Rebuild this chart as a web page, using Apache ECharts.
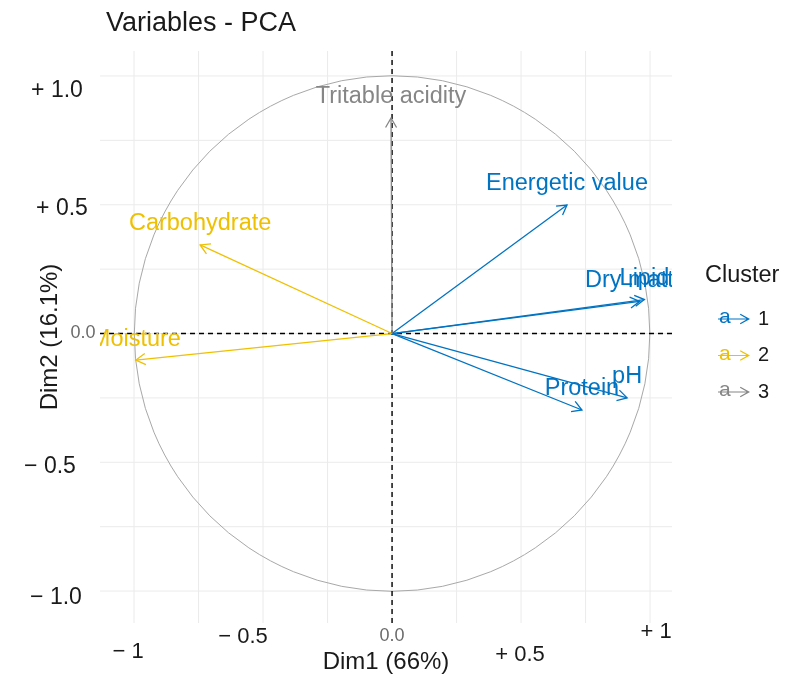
<!DOCTYPE html>
<html><head><meta charset="utf-8">
<script src="https://cdn.jsdelivr.net/npm/echarts@6/dist/echarts.min.js"></script>
<style>html,body{margin:0;padding:0;background:#fff}#c{width:785px;height:680px}</style>
</head><body><div id="c"></div>
<script>
// ---- data ----
const variables = ['Energetic value', 'Dry matter', 'Lipid', 'pH', 'Protein', 'Carbohydrate', 'Moisture', 'Tritable acidity'];
const dim1 = [0.678, 0.960, 0.978, 0.911, 0.736, -0.744, -0.993, -0.004];
const dim2 = [0.499, 0.125, 0.132, -0.250, -0.297, 0.344, -0.103, 0.837];
const cluster = ['1', '1', '1', '1', '1', '2', '2', '3'];
const clusterNames = ['1', '2', '3'];
const gridBreaks = [-1, -0.75, -0.5, -0.25, 0, 0.25, 0.5, 0.75, 1];
const xTicks = [-1, -0.5, 0, 0.5, 1];
const xTickLabels = ['\u2212 1', '\u2212 0.5', '0.0', '+ 0.5', '+ 1'];
const yTicks = [1, 0.5, 0, -0.5, -1];
const yTickLabels = ['+ 1.0', '+ 0.5', '0.0', '\u2212 0.5', '\u2212 1.0'];

// ---- styles ----
const clusterColors = ['#0073C2', '#EFC000', '#868686'];
const FONT = '"Liberation Sans", Arial, sans-serif';
// label shifts (px): x labels relative to (tick x, grid bottom); y labels relative to (grid left, tick y)
const xLabelShift = [[-6, 29], [-20, 14], [0, 13], [-1, 32], [6, 9]];
const yLabelShift = [[-43, 15], [-38, 4], [-17, 0], [-50, 4], [-44, 7]];

const chart = echarts.init(document.getElementById('c'), null, {renderer: 'canvas'});

function arrowItem(params, api) {
  const x = api.value(0), y = api.value(1), idx = api.value(2);
  const o = api.coord([0, 0]);
  const p = api.coord([x, y]);
  const ang = Math.atan2(p[1] - o[1], p[0] - o[0]);
  const L = 11, a = Math.PI / 6;
  const h1 = [p[0] - L * Math.cos(ang - a), p[1] - L * Math.sin(ang - a)];
  const h2 = [p[0] - L * Math.cos(ang + a), p[1] - L * Math.sin(ang + a)];
  const color = api.visual('color');
  return {
    type: 'group',
    children: [
      {type: 'line', shape: {x1: o[0], y1: o[1], x2: p[0], y2: p[1]}, style: {stroke: color, lineWidth: 1.3}},
      {type: 'polyline', shape: {points: [h1, p, h2]}, style: {stroke: color, lineWidth: 1.3, fill: null}},
      {type: 'text', x: p[0], y: p[1] - 21, style: {text: variables[idx], fill: color, fontSize: 23.5, fontFamily: FONT, align: 'center', verticalAlign: 'middle'}}
    ]
  };
}

const arrowSeries = clusterNames.map((cn, ci) => ({
  name: cn,
  type: 'custom',
  clip: true,
  z: 5,
  itemStyle: {color: clusterColors[ci]},
  renderItem: arrowItem,
  data: variables.map((v, i) => [dim1[i], dim2[i], i]).filter((d) => cluster[d[2]] === cn)
}));

const option = {
  animation: false,
  backgroundColor: '#ffffff',
  title: {
    text: 'Variables - PCA', left: 101, top: 5,
    textStyle: {fontSize: 27, fontWeight: 'normal', color: '#1a1a1a', fontFamily: FONT}
  },
  grid: {left: 100, right: 113, top: 51, bottom: 57},
  xAxis: {
    type: 'value', min: -1.132, max: 1.085,
    axisLine: {show: false, onZero: false}, axisTick: {show: false}, axisLabel: {show: false}, splitLine: {show: false},
    name: 'Dim1 (66%)', nameLocation: 'middle', nameGap: 27,
    nameTextStyle: {fontSize: 24, color: '#1a1a1a', fontFamily: FONT}
  },
  yAxis: {
    type: 'value', min: -1.124, max: 1.097,
    axisLine: {show: false, onZero: false}, axisTick: {show: false}, axisLabel: {show: false}, splitLine: {show: false},
    name: 'Dim2 (16.1%)', nameLocation: 'middle', nameGap: 38,
    nameTextStyle: {fontSize: 24, color: '#1a1a1a', fontFamily: FONT}
  },
  legend: {
    data: clusterNames,
    orient: 'vertical', left: 713, top: 304,
    itemWidth: 32, itemHeight: 12, itemGap: 16.5,
    icon: 'path://M0,4.5L25,4.5L25,5.5L0,5.5Z M19,0.6L27,5L19,9.4L18.5,8.5L24.8,5L18.5,1.5Z',
    textStyle: {fontSize: 20, lineHeight: 20, color: '#1a1a1a', fontFamily: FONT, padding: [0, 0, 0, 3]},
    selectedMode: false
  },
  graphic: [
    {type: 'text', left: 705, top: 264, style: {text: 'Cluster', fontSize: 23.5, fill: '#1a1a1a', fontFamily: FONT}},
    ...clusterNames.map((cn, ci) => ({
      type: 'text', left: 719, top: 307 + ci * 36.5, z: -1,
      style: {text: 'a', fontSize: 21, fill: clusterColors[ci], fontFamily: FONT}
    }))
  ],
  series: [
    {
      type: 'custom', z: 1, silent: true,
      renderItem: function (params, api) {
        const v = api.value(0);
        const cs = params.coordSys;
        const px = api.coord([v, 0])[0];
        const py = api.coord([0, v])[1];
        return {type: 'group', children: [
          {type: 'line', shape: {x1: px, y1: cs.y, x2: px, y2: cs.y + cs.height}, style: {stroke: '#EBEBEB', lineWidth: 1}},
          {type: 'line', shape: {x1: cs.x, y1: py, x2: cs.x + cs.width, y2: py}, style: {stroke: '#EBEBEB', lineWidth: 1}}
        ]};
      },
      data: gridBreaks.map((v) => [v])
    },
    {
      type: 'custom', z: 2, silent: true,
      renderItem: function (params, api) {
        const c = api.coord([api.value(0), api.value(1)]);
        const s = api.size([1, 1]);
        return {type: 'circle', shape: {cx: c[0], cy: c[1], r: (s[0] + s[1]) / 2}, style: {fill: null, stroke: '#A8A8A8', lineWidth: 1}};
      },
      data: [[0, 0]]
    },
    {
      type: 'custom', z: 3, silent: true,
      renderItem: function (params, api) {
        const cs = params.coordSys;
        const c = api.coord([api.value(0), api.value(0)]);
        const st = {stroke: '#000', lineWidth: 1.4, lineDash: [5, 4]};
        return {type: 'group', children: [
          {type: 'line', shape: {x1: cs.x, y1: c[1], x2: cs.x + cs.width, y2: c[1]}, style: st},
          {type: 'line', shape: {x1: c[0], y1: cs.y, x2: c[0], y2: cs.y + cs.height}, style: st}
        ]};
      },
      data: [[0]]
    },
    ...arrowSeries,
    {
      type: 'custom', z: 6, silent: true,
      renderItem: function (params, api) {
        const i = api.value(0);
        const cs = params.coordSys;
        const px = api.coord([xTicks[i], 0])[0];
        const small = xTicks[i] === 0;
        return {type: 'text', x: px + xLabelShift[i][0], y: cs.y + cs.height + xLabelShift[i][1],
          style: {text: xTickLabels[i], fontSize: small ? 18 : 22, fill: small ? '#6b6b6b' : '#1a1a1a', fontFamily: FONT, align: 'center', verticalAlign: 'middle'}};
      },
      data: xTicks.map((v, i) => [i])
    },
    {
      type: 'custom', z: 6, silent: true,
      renderItem: function (params, api) {
        const i = api.value(0);
        const cs = params.coordSys;
        const py = api.coord([0, yTicks[i]])[1];
        const small = yTicks[i] === 0;
        return {type: 'text', x: cs.x + yLabelShift[i][0], y: py + yLabelShift[i][1],
          style: {text: yTickLabels[i], fontSize: small ? 18 : 23, fill: small ? '#6b6b6b' : '#1a1a1a', fontFamily: FONT, align: 'center', verticalAlign: 'middle'}};
      },
      data: yTicks.map((v, i) => [i])
    }
  ]
};
chart.setOption(option);
</script>
</body></html>
